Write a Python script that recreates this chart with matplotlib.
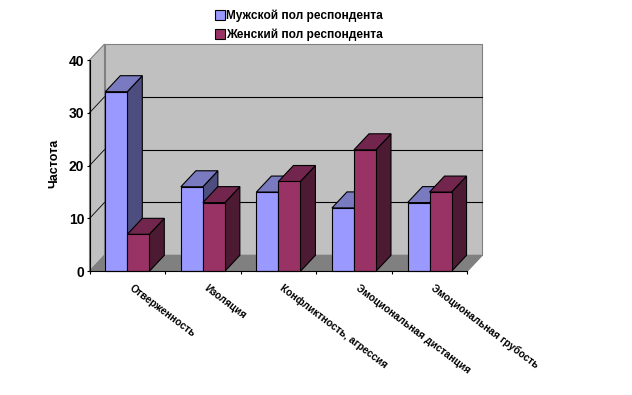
import numpy as np
import matplotlib.pyplot as plt
from matplotlib.patches import Polygon, Rectangle

categories = ["Отверженность", "Изоляция", "Конфликтность, агрессия",
              "Эмоциональная дистанция", "Эмоциональная грубость"]
male = [34, 16, 15, 12, 13]
female = [7, 13, 17, 23, 15]
male_label = "Мужской пол респондента"
female_label = "Женский пол респондента"
yticks = [0, 10, 20, 30, 40]

plt.rcParams['font.family'] = ['Liberation Sans', 'DejaVu Sans']

fig = plt.figure(figsize=(6.32, 3.95), dpi=100)
W, H = 632, 395
# front plane of the fake 3d box, in pixels
left, right, bottom, top = 89.5, 467.3, 271.3, 60
ax = fig.add_axes([left / W, 1 - bottom / H, (right - left) / W, (bottom - top) / H])
ax.set_xlim(0, 5)
ax.set_ylim(0, 40)

# depth offset in data units
dx = 15 / ((right - left) / 5)
dy = 16 / ((bottom - top) / 40)
bar_w = 22 / ((right - left) / 5)
bar_off = 15.8 / ((right - left) / 5)


def poly(pts, fc, ec='k', lw=0.8, z=3):
    ax.add_patch(Polygon(pts, closed=True, fc=fc, ec=ec, lw=lw, zorder=z, clip_on=False,
                         joinstyle='miter'))


# walls and floor
poly([(dx, dy), (5 + dx, dy), (5 + dx, 40 + dy), (dx, 40 + dy)], '#c0c0c0', '#808080', 0.8, 1)
poly([(0, 0), (dx, dy), (dx, 40 + dy), (0, 40)], '#c0c0c0', '#808080', 0.8, 1)
poly([(0, 0), (5, 0), (5 + dx, dy), (dx, dy)], '#808080', '#808080', 0.8, 1)

# grid on back wall and side wall
for v in yticks[1:-1]:
    ax.plot([dx, 5 + dx], [v + dy, v + dy], color='k', lw=0.8, zorder=2, clip_on=False)
    ax.plot([0, dx], [v, v + dy], color='k', lw=0.6, zorder=2, clip_on=False)


def bar3d(x, val, front, topc, side, z):
    poly([(x, 0), (x + bar_w, 0), (x + bar_w, val), (x, val)], front, z=z + 0.2)
    poly([(x, val), (x + bar_w, val), (x + bar_w + dx, val + dy), (x + dx, val + dy)], topc, z=z + 0.1)
    poly([(x + bar_w, 0), (x + bar_w + dx, dy), (x + bar_w + dx, val + dy), (x + bar_w, val)], side, z=z)


for i in range(len(categories)):
    bar3d(i + bar_off, male[i], '#9999ff', '#7a7ac0', '#4d4d80', 3 + i)
    bar3d(i + bar_off + bar_w, female[i], '#993366', '#73264d', '#4d1a33', 3.5 + i)

# axes
for s in ['top', 'right']:
    ax.spines[s].set_visible(False)
for s in ['left', 'bottom']:
    ax.spines[s].set_zorder(20)
    ax.spines[s].set_linewidth(0.8)
ax.set_yticks(yticks)
ax.set_yticklabels(yticks, fontsize=10, fontweight='bold')
ax.set_xticks(range(6))
ax.set_xticklabels([])
ax.tick_params(axis='both', length=2.2, width=0.8, direction='out', pad=1.5)
ax.set_ylabel("Частота", fontsize=9, fontweight='bold', labelpad=1)
ax.yaxis.set_label_coords((60 - left) / (right - left), (bottom - 163) / (bottom - top))

for i, name in enumerate(categories):
    ax.annotate(name, xy=(i + 0.5, 0), xytext=(3, -16), textcoords='offset pixels',
                xycoords='data', rotation=-37, rotation_mode='anchor', ha='left', va='center',
                fontsize=7.4, fontweight='bold', annotation_clip=False)

# legend
handles = [Rectangle((0, 0), 1, 1, fc='#9999ff', ec='k', lw=0.8),
           Rectangle((0, 0), 1, 1, fc='#993366', ec='k', lw=0.8)]
fig.legend(handles, [male_label, female_label], loc='upper left',
           bbox_to_anchor=(211 / W, 1 - 6 / H), frameon=False, handlelength=0.85,
           handleheight=0.85, handletextpad=0.1, labelspacing=0.55, borderpad=0.3,
           borderaxespad=0, prop={'size': 8.6, 'weight': 'bold'})

fig.savefig("out.png", dpi=100)
